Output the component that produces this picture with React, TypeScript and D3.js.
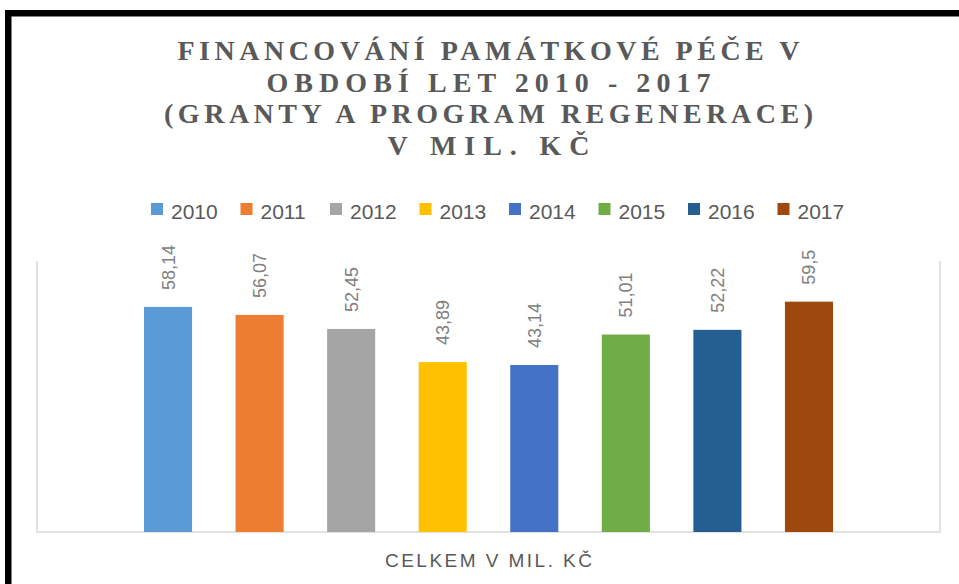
import React from "react";
import * as d3 from "d3";

const years = ["2010", "2011", "2012", "2013", "2014", "2015", "2016", "2017"];
const values = [58.14, 56.07, 52.45, 43.89, 43.14, 51.01, 52.22, 59.5];
const labels = ["58,14", "56,07", "52,45", "43,89", "43,14", "51,01", "52,22", "59,5"];
const colors = ["#5b9bd5", "#ed7d31", "#a5a5a5", "#ffc000", "#4472c4", "#70ad47", "#255e91", "#9e480e"];
const titleLines = [
  "FINANCOVÁNÍ PAMÁTKOVÉ PÉČE V",
  "OBDOBÍ LET 2010 - 2017",
  "(GRANTY A PROGRAM REGENERACE)",
  "V MIL. KČ",
];
const titleWidths = [622, 444, 649, 202];
const axisLabel = "CELKEM V MIL. KČ";

const W = 959;
const H = 584;
const plot = { left: 37, right: 940, top: 261, bottom: 532 };

export default function App() {
  const x = d3
    .scaleBand<string>()
    .domain(years)
    .range([122.25, 854.75])
    .paddingInner(0.475)
    .paddingOuter(0.2375);
  const y = d3.scaleLinear().domain([0, 70]).range([plot.bottom, plot.top]);
  const cx = (plot.left + plot.right) / 2;

  return (
    <svg
      width={W}
      height={H}
      style={{ position: "absolute", left: 0, top: 0, display: "block", background: "#fff" }}
    >
      <rect x={0} y={0} width={W} height={H} fill="#fff" />
      {/* outer black frame */}
      <rect x={8.25} y={13.25} width={1200} height={1200} fill="none" stroke="#000" strokeWidth={6.5} />

      {/* title */}
      {titleLines.map((t, i) => (
        <text
          key={t}
          x={cx}
          y={60 + i * 31.7}
          textAnchor="middle"
          textLength={titleWidths[i]}
          lengthAdjust="spacing"
          fontFamily="'Liberation Serif', 'Times New Roman', serif"
          fontWeight="bold"
          fontSize={28}
          fill="#595959"
        >
          {t}
        </text>
      ))}

      {/* legend */}
      {years.map((yr, i) => (
        <g key={yr} transform={`translate(${151 + i * 89.5},203)`}>
          <rect x={0} y={0} width={12} height={12} fill={colors[i]} />
          <text
            x={20}
            y={15.5}
            fontFamily="'Liberation Sans', Arial, sans-serif"
            fontSize={21}
            fill="#595959"
          >
            {yr}
          </text>
        </g>
      ))}

      {/* plot frame (no top) */}
      <path
        d={`M${plot.left},${plot.top}V${plot.bottom}H${plot.right}V${plot.top}`}
        fill="none"
        stroke="#d9d9d9"
        strokeWidth={1.5}
      />

      {/* bars */}
      {years.map((yr, i) => (
        <rect
          key={yr}
          x={x(yr)}
          y={y(values[i])}
          width={x.bandwidth()}
          height={plot.bottom - y(values[i])}
          fill={colors[i]}
        />
      ))}

      {/* data labels */}
      {years.map((yr, i) => {
        const lx = (x(yr) as number) + x.bandwidth() / 2 + 6.5;
        const ly = y(values[i]) - 17;
        return (
          <text
            key={yr}
            transform={`translate(${lx},${ly}) rotate(-90)`}
            fontFamily="'Liberation Sans', Arial, sans-serif"
            fontSize={18}
            fill="#808080"
          >
            {labels[i]}
          </text>
        );
      })}

      {/* axis label */}
      <text
        x={cx}
        y={567}
        textAnchor="middle"
        textLength={207}
        lengthAdjust="spacing"
        fontFamily="'Liberation Sans', Arial, sans-serif"
        fontSize={19}
        fill="#595959"
      >
        {axisLabel}
      </text>
    </svg>
  );
}
